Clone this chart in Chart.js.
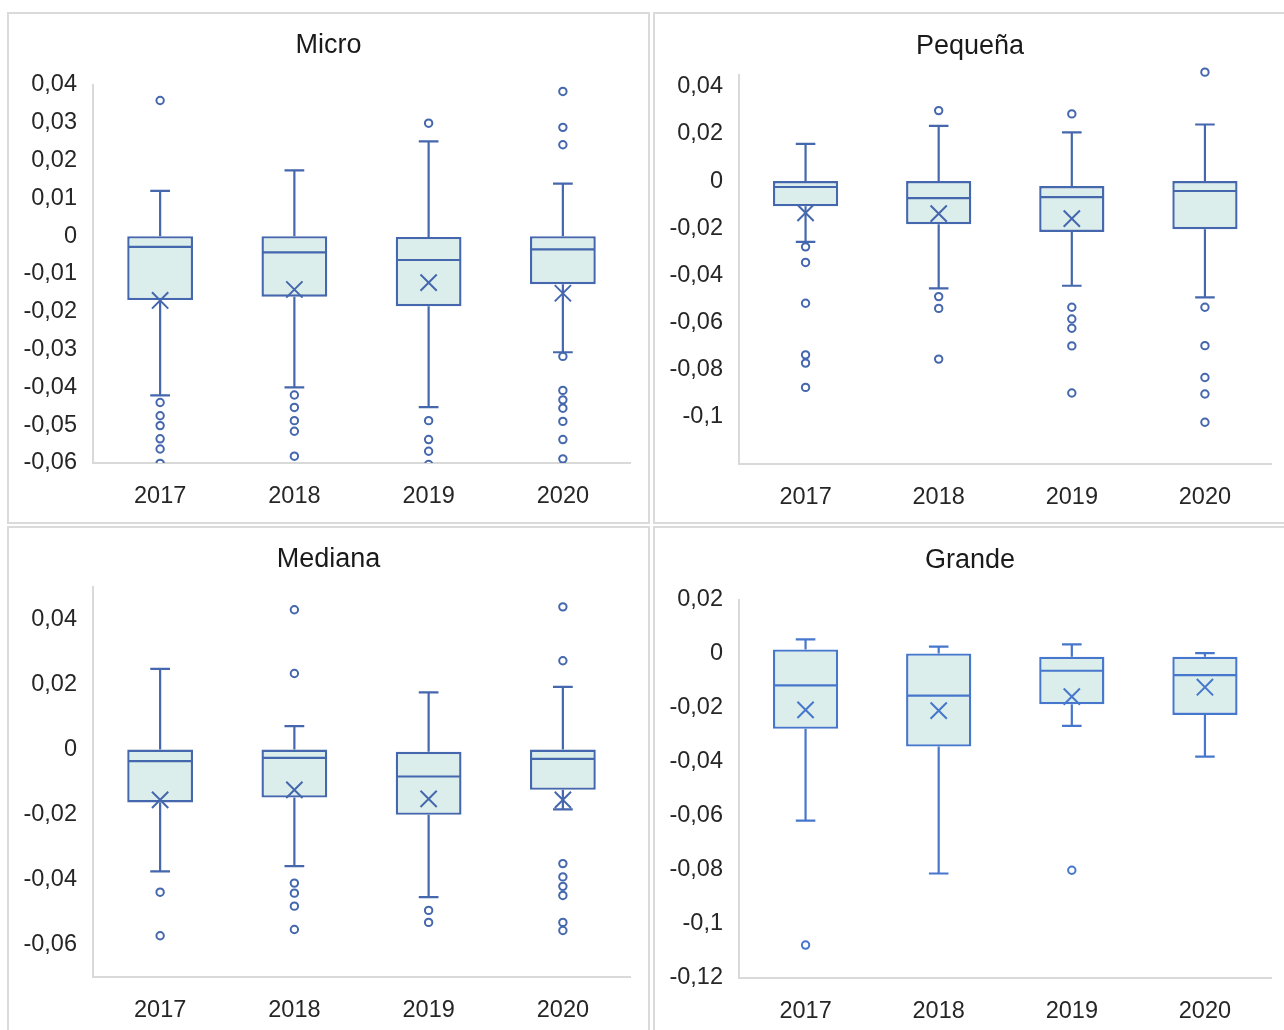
<!DOCTYPE html>
<html>
<head>
<meta charset="utf-8">
<script src="https://cdn.jsdelivr.net/npm/chart.js@4.4.1/dist/chart.umd.min.js"></script>
<style>
  html, body { margin: 0; padding: 0; background: #fff; overflow: hidden; width: 1284px; height: 1030px; }
  .panel { position: absolute; box-sizing: border-box; border: 2px solid #dadada; background: #fff; }
  .panel canvas { position: absolute; left: 0; top: 0; }
</style>
</head>
<body>
<div class="panel" id="p-micro"><canvas id="c-micro"></canvas></div>
<div class="panel" id="p-pequena"><canvas id="c-pequena"></canvas></div>
<div class="panel" id="p-mediana"><canvas id="c-mediana"></canvas></div>
<div class="panel" id="p-grande"><canvas id="c-grande"></canvas></div>
<script>
// Categories
const years = ['2017', '2018', '2019', '2020'];

// Micro
const microMin = [-0.0421, -0.0400, -0.0452, -0.0307];
const microQ1 = [-0.0169, -0.0160, -0.0185, -0.0127];
const microMedian = [-0.0028, -0.0043, -0.0063, -0.0035];
const microQ3 = [0.0000, 0.0000, -0.0002, 0.0000];
const microMax = [0.0120, 0.0174, 0.0251, 0.0139];
const microMean = [-0.0170, -0.0141, -0.0123, -0.0151];
const microOutliers = [
    [0.0359, -0.0440, -0.0475, -0.0501, -0.0536, -0.0563, -0.0601],
    [-0.0420, -0.0453, -0.0488, -0.0516, -0.0582],
    [0.0299, -0.0488, -0.0538, -0.0569, -0.0604],
    [0.0383, 0.0288, 0.0242, -0.0318, -0.0408, -0.0433, -0.0455, -0.0490, -0.0538, -0.0589],
];
const microRange = [-0.06, 0.04];
const microTicks = [0.04, 0.03, 0.02, 0.01, 0, -0.01, -0.02, -0.03, -0.04, -0.05, -0.06];

// Pequeña
const pequenaMin = [-0.0258, -0.0455, -0.0444, -0.0493];
const pequenaQ1 = [-0.0107, -0.0183, -0.0216, -0.0204];
const pequenaMedian = [-0.0025, -0.0072, -0.0068, -0.0042];
const pequenaQ3 = [0.0000, 0.0000, -0.0021, 0.0000];
const pequenaMax = [0.0158, 0.0234, 0.0207, 0.0240];
const pequenaMean = [-0.0135, -0.0138, -0.0159, null];
const pequenaOutliers = [
    [-0.0279, -0.0345, -0.0518, -0.0737, -0.0772, -0.0875],
    [0.0299, -0.0490, -0.0540, -0.0755],
    [0.0285, -0.0535, -0.0585, -0.0624, -0.0699, -0.0899],
    [0.0462, -0.0535, -0.0698, -0.0833, -0.0903, -0.1023],
];
const pequenaRange = [-0.12, 0.045];
const pequenaTicks = [0.04, 0.02, 0, -0.02, -0.04, -0.06, -0.08, -0.1];

// Mediana
const medianaMin = [-0.0375, -0.0359, -0.0454, -0.0184];
const medianaQ1 = [-0.0163, -0.0148, -0.0201, -0.0124];
const medianaMedian = [-0.0036, -0.0026, -0.0083, -0.0029];
const medianaQ3 = [0.0000, 0.0000, -0.0007, 0.0000];
const medianaMax = [0.0248, 0.0072, 0.0176, 0.0193];
const medianaMean = [-0.0155, -0.0124, -0.0152, -0.0155];
const medianaOutliers = [
    [-0.0439, -0.0573],
    [0.0430, 0.0234, -0.0411, -0.0442, -0.0482, -0.0554],
    [-0.0495, -0.0532],
    [0.0439, 0.0273, -0.0351, -0.0392, -0.0421, -0.0449, -0.0532, -0.0557],
];
const medianaRange = [-0.07, 0.05];
const medianaTicks = [0.04, 0.02, 0, -0.02, -0.04, -0.06];

// Grande
const grandeMin = [-0.0617, -0.0813, -0.0266, -0.0380];
const grandeQ1 = [-0.0277, -0.0343, -0.0186, -0.0226];
const grandeMedian = [-0.0116, -0.0154, -0.0062, -0.0078];
const grandeQ3 = [0.0017, 0.0002, -0.0010, -0.0010];
const grandeMax = [0.0054, 0.0027, 0.0036, 0.0003];
const grandeMean = [-0.0207, -0.0210, -0.0158, -0.0123];
const grandeOutliers = [
    [-0.1078],
    [],
    [-0.0801],
    [],
];
const grandeRange = [-0.12, 0.02];
const grandeTicks = [0.02, 0, -0.02, -0.04, -0.06, -0.08, -0.1, -0.12];

// Styling / layout (page pixels)
const FONT = "'Liberation Sans', Arial, sans-serif";
const BORDER = 2;
const TITLE_SIZE = 27;
const TICK_SIZE = 23.5;
const FILL = '#dbeeeb';
const AXIS_COLOR = '#d9d9d9';

const layout = {
    micro:   { left: 7,   top: 12,  width: 643, height: 512, plotLeft: 93,  plotRight: 630,  plotTop: 85,  plotBottom: 463, titleY: 46 },
    pequena: { left: 653, top: 12,  width: 634, height: 512, plotLeft: 739, plotRight: 1276, plotTop: 75,  plotBottom: 464, titleY: 47 },
    mediana: { left: 7,   top: 526, width: 643, height: 520, plotLeft: 93,  plotRight: 630,  plotTop: 587, plotBottom: 977, titleY: 560 },
    grande:  { left: 653, top: 526, width: 634, height: 520, plotLeft: 739, plotRight: 1276, plotTop: 600, plotBottom: 978, titleY: 561 },
};

/**
 * Plugin drawing whiskers, caps and median line on top of the box dataset
 */
function whiskerPlugin(stats, color) {
    return {
        id: 'whiskers',
        afterLayout(chart) {
            // centre the title on the whole panel, not only on the padded area
            if (chart.titleBlock) {
                chart.titleBlock.left = 0;
                chart.titleBlock.right = chart.width;
                chart.titleBlock.width = chart.width;
            }
        },
        afterDatasetDraw(chart, args) {
            if (args.index !== 0) return;
            const ctx = chart.ctx;
            const y = chart.scales.y;
            const bars = chart.getDatasetMeta(0).data;
            ctx.save();
            ctx.strokeStyle = color;
            ctx.lineWidth = 2.2;
            bars.forEach((bar, i) => {
                const x = bar.x;
                const half = bar.width / 2;
                const cap = bar.width * 0.15;
                const yMin = y.getPixelForValue(stats.min[i]);
                const yQ1 = y.getPixelForValue(stats.q1[i]);
                const yMed = y.getPixelForValue(stats.median[i]);
                const yQ3 = y.getPixelForValue(stats.q3[i]);
                const yMax = y.getPixelForValue(stats.max[i]);
                ctx.beginPath();
                // upper whisker + cap
                ctx.moveTo(x, yQ3);
                ctx.lineTo(x, yMax);
                ctx.moveTo(x - cap, yMax);
                ctx.lineTo(x + cap, yMax);
                // lower whisker + cap
                ctx.moveTo(x, yQ1);
                ctx.lineTo(x, yMin);
                ctx.moveTo(x - cap, yMin);
                ctx.lineTo(x + cap, yMin);
                // median
                ctx.moveTo(x - half + 1, yMed);
                ctx.lineTo(x + half - 1, yMed);
                ctx.stroke();
            });
            ctx.restore();
        }
    };
}

function buildPanel(key, title, stats, range, ticks, color) {
    const pos = layout[key];
    const panel = document.getElementById('p-' + key);
    panel.style.left = pos.left + 'px';
    panel.style.top = pos.top + 'px';
    panel.style.width = pos.width + 'px';
    panel.style.height = pos.height + 'px';

    const canvas = document.getElementById('c-' + key);
    const cx = pos.left + BORDER;
    const cy = pos.top + BORDER;
    const cw = pos.width - 2 * BORDER;
    const ch = pos.height - 2 * BORDER;
    canvas.width = cw;
    canvas.height = ch;
    canvas.style.width = cw + 'px';
    canvas.style.height = ch + 'px';

    const titleLine = TITLE_SIZE * 1.2;
    const padRight = cw - (pos.plotRight - cx);
    const yAxisWidth = pos.plotLeft - cx;
    const titleTop = pos.titleY - cy - titleLine / 2;
    const titleBottom = (pos.plotTop - cy) - titleTop - titleLine;
    const xAxisHeight = ch - (pos.plotBottom - cy);

    const meanPoints = [];
    stats.mean.forEach((v, i) => { if (v !== null) meanPoints.push({ x: years[i], y: v }); });
    const outlierPoints = [];
    stats.outliers.forEach((list, i) => list.forEach(v => outlierPoints.push({ x: years[i], y: v })));

    return new Chart(canvas, {
        type: 'bar',
        data: {
            labels: years,
            datasets: [
                {
                    type: 'bar',
                    data: years.map((_, i) => [stats.q1[i], stats.q3[i]]),
                    backgroundColor: FILL,
                    borderColor: color,
                    borderWidth: 2.4,
                    borderSkipped: false,
                    barPercentage: 0.49,
                    categoryPercentage: 1,
                    order: 3,
                },
                {
                    type: 'line',
                    showLine: false,
                    data: meanPoints,
                    pointStyle: 'crossRot',
                    pointRadius: 11.5,
                    pointHoverRadius: 11.5,
                    borderColor: color,
                    pointBorderWidth: 2,
                    order: 2,
                },
                {
                    type: 'line',
                    showLine: false,
                    data: outlierPoints,
                    pointStyle: 'circle',
                    pointRadius: 3.7,
                    pointHoverRadius: 3.7,
                    pointBackgroundColor: '#ffffff',
                    borderColor: color,
                    pointBorderWidth: 2,
                    clip: { left: 0, top: 8, right: 0, bottom: 0 },
                    order: 1,
                },
            ]
        },
        options: {
            responsive: false,
            animation: false,
            events: [],
            layout: { padding: { left: 0, right: padRight, top: 0, bottom: 0 } },
            plugins: {
                legend: { display: false },
                tooltip: { enabled: false },
                title: {
                    display: true,
                    text: title,
                    color: '#1a1a1a',
                    font: { family: FONT, size: TITLE_SIZE, weight: 'normal', lineHeight: 1.2 },
                    padding: { top: titleTop, bottom: titleBottom },
                },
            },
            scales: {
                x: {
                    grid: { display: false, drawTicks: false },
                    border: { display: true, color: AXIS_COLOR, width: 2 },
                    ticks: { color: '#262626', font: { family: FONT, size: TICK_SIZE }, padding: 19 },
                    afterFit: (s) => { s.height = xAxisHeight; },
                },
                y: {
                    type: 'linear',
                    min: range[0],
                    max: range[1],
                    grid: { display: false, drawTicks: false },
                    border: { display: true, color: AXIS_COLOR, width: 2 },
                    ticks: {
                        color: '#262626',
                        font: { family: FONT, size: TICK_SIZE },
                        padding: 16,
                        callback: (v) => String(v).replace('.', ','),
                    },
                    afterBuildTicks: (s) => { s.ticks = ticks.map(v => ({ value: v })); },
                    afterFit: (s) => { s.width = yAxisWidth; },
                },
            },
        },
        plugins: [whiskerPlugin(stats, color)],
    });
}

buildPanel('micro', 'Micro', {
    min: microMin, q1: microQ1, median: microMedian, q3: microQ3, max: microMax,
    mean: microMean, outliers: microOutliers,
}, microRange, microTicks, '#4467ad');

buildPanel('pequena', 'Pequeña', {
    min: pequenaMin, q1: pequenaQ1, median: pequenaMedian, q3: pequenaQ3, max: pequenaMax,
    mean: pequenaMean, outliers: pequenaOutliers,
}, pequenaRange, pequenaTicks, '#4467ad');

buildPanel('mediana', 'Mediana', {
    min: medianaMin, q1: medianaQ1, median: medianaMedian, q3: medianaQ3, max: medianaMax,
    mean: medianaMean, outliers: medianaOutliers,
}, medianaRange, medianaTicks, '#4467ad');

buildPanel('grande', 'Grande', {
    min: grandeMin, q1: grandeQ1, median: grandeMedian, q3: grandeQ3, max: grandeMax,
    mean: grandeMean, outliers: grandeOutliers,
}, grandeRange, grandeTicks, '#4677cc');
</script>
</body>
</html>
